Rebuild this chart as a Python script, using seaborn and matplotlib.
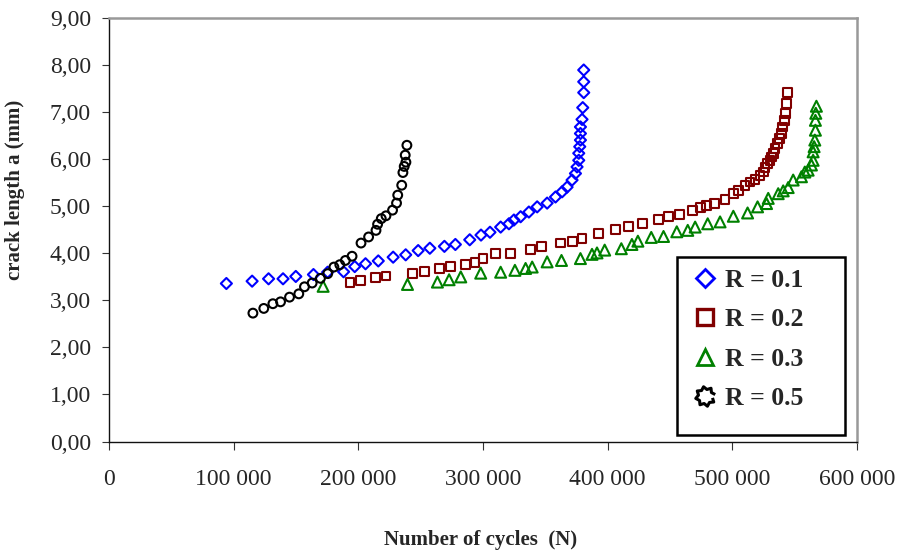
import numpy as np
import pandas as pd
import matplotlib
matplotlib.use("Agg")
import matplotlib.pyplot as plt
from matplotlib.lines import Line2D
from matplotlib.patches import Rectangle
import seaborn as sns

# Crack growth measurements: number of cycles N vs crack length a (mm)
cycles_r01 = [94160, 114800, 128000, 139600, 149840, 164000, 175360, 188160, 197120,
              205760, 216000, 227920, 238000, 248000, 257360, 269040, 277840, 289360,
              298400, 305600, 314160, 320800, 324800, 330160, 336800, 343440, 351440,
              358160, 363440, 367440, 371440, 374160, 375440, 376800, 376800, 377600,
              378160, 378160, 378160, 379440, 380000, 380800, 380800, 380800]
crack_r01 = [3.36, 3.41, 3.46, 3.46, 3.51, 3.55, 3.60, 3.61, 3.72,
             3.78, 3.84, 3.92, 3.97, 4.06, 4.11, 4.15, 4.19, 4.29,
             4.39, 4.45, 4.56, 4.63, 4.71, 4.78, 4.88, 4.99, 5.07,
             5.20, 5.31, 5.41, 5.56, 5.70, 5.84, 5.98, 6.13, 6.27,
             6.41, 6.55, 6.69, 6.85, 7.10, 7.42, 7.65, 7.90]

cycles_r02 = [193360, 201840, 213600, 222160, 243200, 253360, 265360, 274160, 286160,
              293600, 300000, 310160, 322160, 338160, 346960, 362160, 372000, 379440,
              392800, 406160, 416800, 428000, 440800, 448800, 457600, 468000, 474160,
              479440, 485600, 494160, 500800, 504800, 510160, 514160, 518160, 522160,
              524800, 526160, 528240, 530160, 531440, 532800, 534160, 536000, 537600,
              539440, 540000, 541600, 542640, 543440, 544240]
crack_r02 = [3.38, 3.43, 3.48, 3.52, 3.57, 3.62, 3.68, 3.72, 3.76,
             3.80, 3.89, 4.00, 4.00, 4.08, 4.14, 4.22, 4.26, 4.32,
             4.42, 4.51, 4.58, 4.63, 4.72, 4.78, 4.83, 4.92, 4.98,
             5.02, 5.06, 5.15, 5.27, 5.34, 5.45, 5.52, 5.58, 5.66,
             5.73, 5.83, 5.91, 5.98, 6.05, 6.13, 6.23, 6.34, 6.44,
             6.55, 6.69, 6.83, 6.98, 7.19, 7.42]

cycles_r03 = [171760, 239440, 263440, 272800, 282160, 298160, 314160, 325600, 334160,
              339440, 351440, 362960, 378160, 387440, 391440, 397600, 410960, 419440,
              424240, 434960, 444800, 455440, 464240, 470160, 480240, 490160, 500800,
              512240, 520240, 527440, 528800, 536800, 540800, 544800, 548800, 555440,
              558160, 560800, 563440, 564800, 564800, 565600, 566160, 566640, 566640,
              566960, 567440]
crack_r03 = [3.30, 3.34, 3.39, 3.44, 3.50, 3.58, 3.60, 3.64, 3.68,
             3.71, 3.82, 3.85, 3.89, 3.98, 4.01, 4.07, 4.10, 4.19,
             4.26, 4.34, 4.36, 4.46, 4.49, 4.56, 4.63, 4.67, 4.79,
             4.86, 4.99, 5.06, 5.17, 5.27, 5.33, 5.40, 5.56, 5.63,
             5.73, 5.77, 5.88, 5.98, 6.16, 6.27, 6.41, 6.62, 6.83,
             6.98, 7.13]

cycles_r05 = [115440, 124160, 131440, 137600, 144800, 152240, 156800, 162960, 169600,
              175440, 180400, 185120, 189600, 194960, 202160, 208240, 214160, 215440,
              218400, 222160, 227440, 230640, 231600, 234800, 235760, 236800, 238160,
              237600, 238960]
crack_r05 = [2.73, 2.83, 2.93, 2.97, 3.07, 3.14, 3.29, 3.37, 3.47,
             3.57, 3.71, 3.76, 3.85, 3.94, 4.22, 4.35, 4.49, 4.62,
             4.74, 4.80, 4.92, 5.07, 5.24, 5.45, 5.72, 5.85, 5.94,
             6.09, 6.30]

series_labels = ["R = 0.1", "R = 0.2", "R = 0.3", "R = 0.5"]

y_ticks = [0, 1, 2, 3, 4, 5, 6, 7, 8, 9]
y_tick_labels = ["0,00", "1,00", "2,00", "3,00", "4,00", "5,00", "6,00", "7,00", "8,00", "9,00"]
x_ticks = [0, 100000, 200000, 300000, 400000, 500000, 600000]
x_tick_labels = ["0", "100 000", "200 000", "300 000", "400 000", "500 000", "600 000"]

df = pd.concat([
    pd.DataFrame({"series": series_labels[0], "cycles": cycles_r01, "crack": crack_r01}),
    pd.DataFrame({"series": series_labels[1], "cycles": cycles_r02, "crack": crack_r02}),
    pd.DataFrame({"series": series_labels[2], "cycles": cycles_r03, "crack": crack_r03}),
    pd.DataFrame({"series": series_labels[3], "cycles": cycles_r05, "crack": crack_r05}),
], ignore_index=True)

sns.set_theme(style="white")
plt.rcParams["font.family"] = ["Liberation Serif", "DejaVu Serif"]

fig = plt.figure(figsize=(8.98, 5.6), dpi=100)
ax = fig.add_axes([109 / 898, 1 - 441.5 / 560, (857 - 109) / 898, (441.5 - 18.3) / 560])

styles = {
    "R = 0.1": dict(marker="D", color="#0000ff", s=32),
    "R = 0.2": dict(marker="s", color="#800000", s=40),
    "R = 0.3": dict(marker="^", color="#008000", s=62),
    "R = 0.5": dict(marker="o", color="#000000", s=40),
}

for lab in series_labels:
    st = styles[lab]
    sub = df[df["series"] == lab]
    sns.scatterplot(data=sub, x="cycles", y="crack", ax=ax, marker=st["marker"],
                    s=st["s"], color=st["color"], facecolors="none",
                    edgecolor=st["color"], linewidth=1.5, legend=False, zorder=3)

ax.set_xlim(0, 600000)
ax.set_ylim(0, 9)
ax.set_xticks(x_ticks)
ax.set_xticklabels(x_tick_labels)
ax.set_yticks(y_ticks)
ax.set_yticklabels(y_tick_labels)
ax.set_xlabel("")
ax.set_ylabel("")
ax.grid(False)

ax.tick_params(axis="x", which="both", direction="out", length=6, width=0.8,
               color="#333333", pad=14, labelsize=17, bottom=True, top=False)
ax.tick_params(axis="y", which="both", direction="out", length=5, width=0.8,
               color="#333333", pad=8, labelsize=17, left=True, right=False)

for side in ["left", "bottom"]:
    ax.spines[side].set_color("#111111")
    ax.spines[side].set_linewidth(1.0)
for side in ["top", "right"]:
    ax.spines[side].set_color("#999999")
    ax.spines[side].set_linewidth(1.8)

fig.text(15 / 898, 1 - 190 / 560, "crack length a (mm)", rotation=90,
         ha="center", va="center", fontsize=15, fontweight="bold")
fig.text(481 / 898, 1 - 540 / 560, "Number of cycles  (N)",
         ha="center", va="center", fontsize=15, fontweight="bold")

# legend box
ax.add_patch(Rectangle((0.7594, 0.0154), 0.984 - 0.7594, 0.436 - 0.0154,
                       transform=ax.transAxes, fill=False, edgecolor="black",
                       linewidth=1.8, zorder=4))

# gear-shaped marker for the R = 0.5 legend entry
ang = np.linspace(0, 2 * np.pi, 17)[:-1] + np.pi / 16
rad = np.where(np.arange(16) % 2 == 0, 1.0, 0.72)
gear = np.column_stack([rad * np.cos(ang), rad * np.sin(ang)])

handles = [
    Line2D([], [], linestyle="none", marker="D", markersize=9.5, markerfacecolor="none",
           markeredgecolor="#0000ff", markeredgewidth=2.0),
    Line2D([], [], linestyle="none", marker="s", markersize=11.5, markerfacecolor="none",
           markeredgecolor="#800000", markeredgewidth=2.4),
    Line2D([], [], linestyle="none", marker="^", markersize=12, markerfacecolor="none",
           markeredgecolor="#008000", markeredgewidth=2.0),
    Line2D([], [], linestyle="none", marker=gear, markersize=14, markerfacecolor="none",
           markeredgecolor="#000000", markeredgewidth=2.2),
]
leg = ax.legend(handles, series_labels, loc="upper left",
                bbox_to_anchor=(692 / 898, 1 - 269 / 560), bbox_transform=fig.transFigure,
                frameon=False, borderpad=0, borderaxespad=0, handlelength=1.0,
                handletextpad=0.3, labelspacing=0.64,
                prop={"family": "Liberation Serif", "weight": "bold", "size": 18.5})
leg.set_zorder(5)

fig.savefig("out.png", dpi=100, facecolor="white")
